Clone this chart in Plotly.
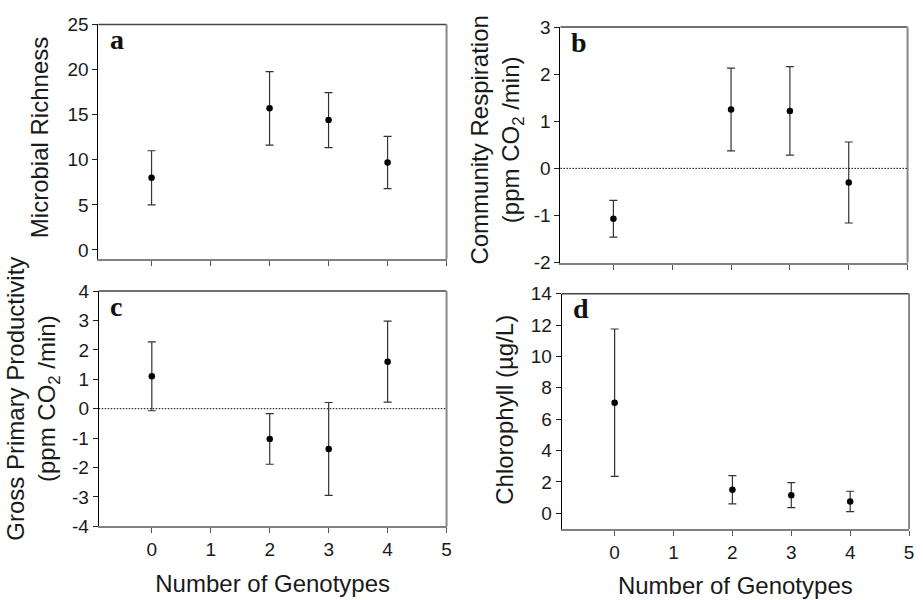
import plotly.graph_objects as go

# ---- data ----
genotypes = [0, 2, 3, 4]
richness = [8.0, 15.7, 14.4, 9.7]
richness_err = [3.0, 4.07, 3.05, 2.9]
respiration = [-1.07, 1.25, 1.22, -0.3]
respiration_err = [0.39, 0.88, 0.94, 0.86]
gpp = [1.1, -1.03, -1.37, 1.6]
gpp_err = [1.17, 0.86, 1.58, 1.38]
chlorophyll = [7.05, 1.5, 1.15, 0.75]
chlorophyll_err = [4.7, 0.9, 0.8, 0.65]

x_ticks = [0, 1, 2, 3, 4, 5]
x_range = [-0.9, 5]
panel_letters = ["a", "b", "c", "d"]
y_titles = [
    "Microbial Richness",
    "Community Respiration<br>(ppm CO<sub>2</sub> /min)",
    "Gross Primary Productivity<br>(ppm CO<sub>2</sub> /min)",
    "Chlorophyll (µg/L)",
]
y_ranges = [[-1, 25], [-2, 3], [-4, 4], [-1, 14]]
y_ticks = [
    [0, 5, 10, 15, 20, 25],
    [-2, -1, 0, 1, 2, 3],
    [-4, -3, -2, -1, 0, 1, 2, 3, 4],
    [0, 2, 4, 6, 8, 10, 12, 14],
]
zero_line_panels = [1, 2]
x_title = "Number of Genotypes"

series = [(richness, richness_err), (respiration, respiration_err),
          (gpp, gpp_err), (chlorophyll, chlorophyll_err)]

W, H = 923, 600
# panel pixel boxes: (left, right, top, bottom)
boxes = [(99, 449, 15, 258), (563.5, 912.5, 17.7, 261.7),
         (99.3, 449, 291.3, 535), (564.7, 914, 294, 537.7)]

FONT = "Liberation Sans, Arial, sans-serif"
TXT = "#1a1a1a"
fig = go.Figure()

for i, ((vals, errs), box) in enumerate(zip(series, boxes)):
    n = "" if i == 0 else str(i + 1)
    xa, ya = "x" + n, "y" + n
    fig.add_trace(go.Scatter(
        x=genotypes, y=vals, mode="markers",
        marker=dict(color="black", size=6.5),
        error_y=dict(type="data", array=errs, visible=True,
                     color="#333333", thickness=1.2, width=4),
        xaxis=xa, yaxis=ya, showlegend=False,
    ))
    l, r, t, b = box
    xaxis = dict(
        domain=[l / W, r / W], anchor=ya, range=x_range,
        tickmode="array", tickvals=x_ticks,
        showticklabels=(i >= 2), ticks="outside", ticklen=5, tickwidth=1,
        tickcolor="#555555",
        showline=True, linecolor="#808080", linewidth=2,
        showgrid=False, zeroline=False,
        tickfont=dict(family=FONT, size=19, color=TXT),
    )
    if i >= 2:
        xaxis["title"] = dict(text=x_title, standoff=16,
                              font=dict(family=FONT, size=24, color=TXT))
    fig.layout["xaxis" + n] = xaxis
    fig.layout["yaxis" + n] = dict(
        domain=[1 - b / H, 1 - t / H], anchor=xa, range=y_ranges[i],
        tickmode="array", tickvals=y_ticks[i],
        ticktext=[str(v) for v in y_ticks[i]],
        ticks="outside", ticklen=5, tickwidth=1, tickcolor="#222222",
        showline=True, linecolor="black", linewidth=1,
        showgrid=False, zeroline=False,
        tickfont=dict(family=FONT, size=19, color=TXT),
    )
    # top and right frame lines
    fig.add_shape(type="line", xref=xa + " domain", yref=ya + " domain",
                  x0=0, x1=1, y0=1, y1=1, line=dict(color="#444444", width=1.5))
    fig.add_shape(type="line", xref=xa + " domain", yref=ya + " domain",
                  x0=1, x1=1, y0=0, y1=1, line=dict(color="#888888", width=2))
    if i in zero_line_panels:
        fig.add_shape(type="line", xref=xa + " domain", yref=ya,
                      x0=0, x1=1, y0=0, y1=0,
                      line=dict(color="black", width=1, dash="1.5px,1.5px"))
    # panel letter
    fig.add_annotation(xref=xa + " domain", yref=ya + " domain",
                       x=0.026, y=0.935, xanchor="left", yanchor="middle",
                       text="<b>" + panel_letters[i] + "</b>", showarrow=False,
                       font=dict(family="Liberation Serif, Times New Roman, serif",
                                 size=28, color="#111111"))

# y-axis titles as rotated annotations
title_pos = [(40, 132), (500, 135), (33, 403), (507, 414)]
for i, (px, py) in enumerate(title_pos):
    fig.add_annotation(xref="paper", yref="paper", x=px / W, y=1 - py / H,
                       xanchor="center", yanchor="middle", textangle=-90,
                       text=y_titles[i], showarrow=False,
                       font=dict(family=FONT, size=24, color=TXT))

fig.update_layout(
    width=W, height=H, margin=dict(l=0, r=0, t=0, b=0),
    paper_bgcolor="white", plot_bgcolor="white",
)

fig.write_html("out.html")
